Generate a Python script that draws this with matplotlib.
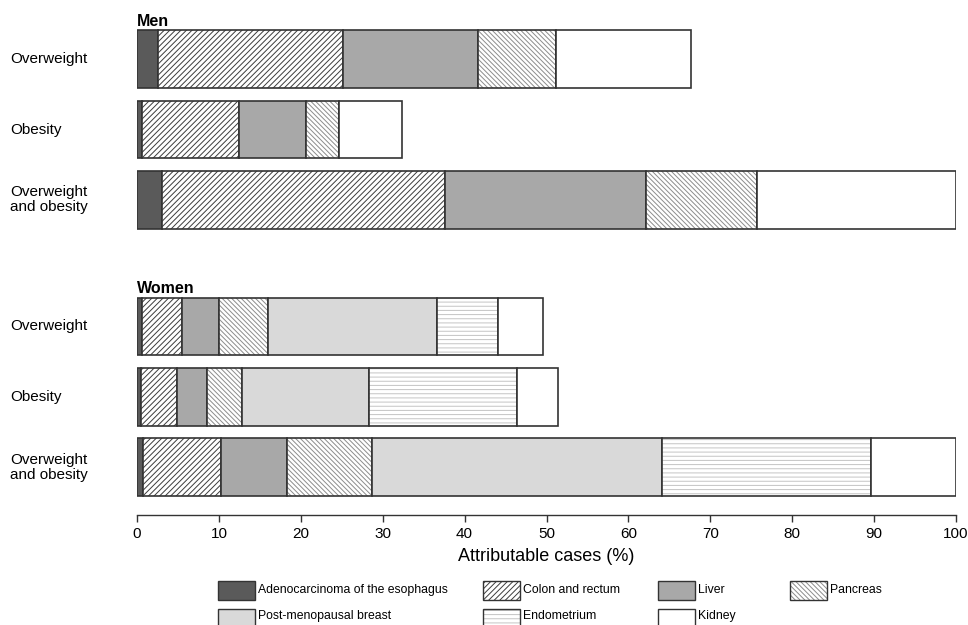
import matplotlib
matplotlib.use('Agg')
import matplotlib.pyplot as plt
import matplotlib.transforms as mtransforms
from matplotlib.patches import Rectangle
import numpy as np

plt.rcParams['font.family'] = ['Liberation Sans', 'DejaVu Sans']
plt.rcParams['hatch.linewidth'] = 0.7

# Data (attributable cases, %)
cancers = ['Adenocarcinoma of the esophagus', 'Colon and rectum', 'Liver', 'Pancreas',
           'Post-menopausal breast', 'Endometrium', 'Kidney']
row_labels = ['Overweight', 'Obesity', 'Overweight\nand obesity']

esophagus_men = [2.6, 0.65, 3.1]
colon_men = [22.6, 11.85, 34.5]
liver_men = [16.4, 8.1, 24.6]
pancreas_men = [9.5, 4.1, 13.5]
breast_men = [0, 0, 0]
endometrium_men = [0, 0, 0]
kidney_men = [16.6, 7.7, 24.3]

esophagus_women = [0.57, 0.45, 0.77]
colon_women = [4.95, 4.45, 9.5]
liver_women = [4.5, 3.6, 8.1]
pancreas_women = [6.0, 4.3, 10.3]
breast_women = [20.6, 15.5, 35.4]
endometrium_women = [7.4, 18.1, 25.6]
kidney_women = [5.5, 5.0, 10.3]

men = [esophagus_men, colon_men, liver_men, pancreas_men, breast_men, endometrium_men, kidney_men]
women = [esophagus_women, colon_women, liver_women, pancreas_women, breast_women,
         endometrium_women, kidney_women]

# style per cancer: face colour, hatch, hatch colour
styles = [
    ('#5a5a5a', None, None),
    ('white', '//////', '#3c3c3c'),
    ('#a8a8a8', None, None),
    ('white', '\\\\\\\\\\\\\\', '#8c8c8c'),
    ('#d9d9d9', None, None),
    ('white', '----', '#c4c4c4'),
    ('white', None, None),
]
edge = '#333333'

W, H = 968, 625
fig = plt.figure(figsize=(W / 100, H / 100), dpi=100)
ax = fig.add_axes([137 / W, 1 - 515 / H, (956 - 137) / W, (515 - 17) / H])

men_pos = np.array([0, 1, 2])
women_pos = np.array([3.8, 4.8, 5.8])
bh = 0.82


def draw_group(values, pos):
    left = np.zeros(len(pos))
    for vals, (fc, hatch, hc) in zip(values, styles):
        vals = np.array(vals)
        if hatch:
            ax.barh(pos, vals, left=left, height=bh, color=fc, hatch=hatch,
                    edgecolor=hc, linewidth=0)
            ax.barh(pos, vals, left=left, height=bh, fill=False,
                    edgecolor=edge, linewidth=1.2)
        else:
            ax.barh(pos, vals, left=left, height=bh, color=fc,
                    edgecolor=edge, linewidth=1.2)
        left = left + vals


draw_group(men, men_pos)
draw_group(women, women_pos)

ax.set_xlim(0, 100)
ax.set_ylim(6.48, -0.6)
for s in ['top', 'right', 'left']:
    ax.spines[s].set_visible(False)
ax.spines['bottom'].set_color('#333333')
ax.spines['bottom'].set_linewidth(1.0)
ax.set_yticks([])
ax.set_xticks(np.arange(0, 101, 10))
ax.tick_params(axis='x', length=5, width=1.0, color='#333333', labelsize=11, pad=4)
ax.set_xlabel('Attributable cases (%)', fontsize=13, labelpad=5)

# row labels
trans = mtransforms.blended_transform_factory(fig.transFigure, ax.transData)
for pos in (men_pos, women_pos):
    for p, lab in zip(pos, row_labels):
        ax.text(10 / W, p, lab, transform=trans, ha='left', va='center',
                fontsize=11, linespacing=1.1)

ax.text(0, -0.43, 'Men', fontweight='bold', fontsize=11.5, ha='left', va='bottom')
ax.text(0, women_pos[0] - 0.43, 'Women', fontweight='bold', fontsize=11.5, ha='left', va='bottom')

# legend drawn by hand, in pixel positions
col_x = [218, 483, 658, 790]
row_y = [581, 609]
text_y = [590, 616]
bw, bhgt = 37, 19
for i, (name, (fc, hatch, hc)) in enumerate(zip(cancers, styles)):
    r = 0 if i < 4 else 1
    c = i if i < 4 else i - 4
    x0 = col_x[c] / W
    y0 = 1 - (row_y[r] + bhgt) / H
    if hatch:
        fig.add_artist(Rectangle((x0, y0), bw / W, bhgt / H, transform=fig.transFigure,
                                 facecolor=fc, hatch=hatch, edgecolor=hc, linewidth=0))
        fig.add_artist(Rectangle((x0, y0), bw / W, bhgt / H, transform=fig.transFigure,
                                 fill=False, edgecolor=edge, linewidth=1.0))
    else:
        fig.add_artist(Rectangle((x0, y0), bw / W, bhgt / H, transform=fig.transFigure,
                                 facecolor=fc, edgecolor=edge, linewidth=1.0))
    fig.text((col_x[c] + bw + 3) / W, 1 - text_y[r] / H, name,
             ha='left', va='center', fontsize=8.8)

fig.savefig('out.png', dpi=100)
